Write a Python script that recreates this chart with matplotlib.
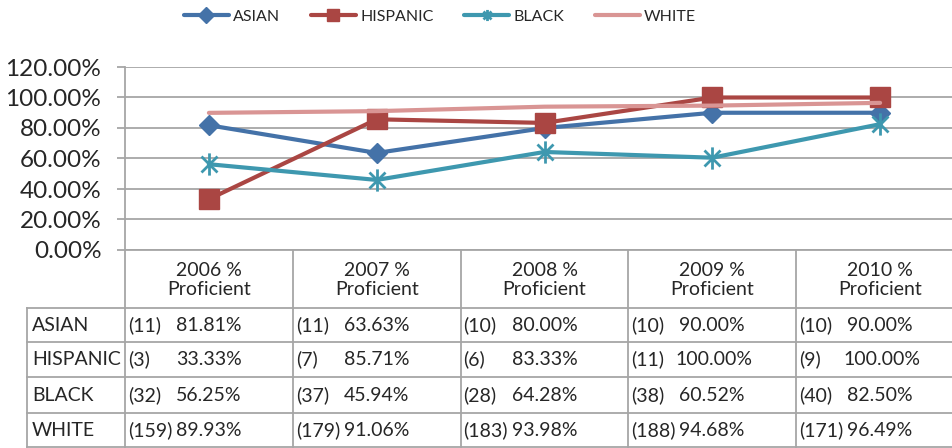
import matplotlib
matplotlib.use("Agg")
import matplotlib.pyplot as plt
from matplotlib.lines import Line2D
from matplotlib.path import Path

plt.rcParams['font.family'] = ['Lato', 'DejaVu Sans']

# ---------------- data ----------------
categories = ["2006 %\nProficient", "2007 %\nProficient", "2008 %\nProficient",
              "2009 %\nProficient", "2010 %\nProficient"]
groups = ["ASIAN", "HISPANIC", "BLACK", "WHITE"]
asian = [81.81, 63.63, 80.00, 90.00, 90.00]
hispanic = [33.33, 85.71, 83.33, 100.00, 100.00]
black = [56.25, 45.94, 64.28, 60.52, 82.50]
white = [89.93, 91.06, 93.98, 94.68, 96.49]
asian_n = [11, 11, 10, 10, 10]
hispanic_n = [3, 7, 6, 11, 9]
black_n = [32, 37, 28, 38, 40]
white_n = [159, 179, 183, 188, 171]
yticks = [0, 20, 40, 60, 80, 100, 120]

values = [asian, hispanic, black, white]
counts = [asian_n, hispanic_n, black_n, white_n]

# ---------------- style ----------------
d = 0.72
star = Path([(0, -1), (0, 1), (-d, -d), (d, d), (-d, d), (d, -d)],
            [Path.MOVETO, Path.LINETO, Path.MOVETO, Path.LINETO, Path.MOVETO, Path.LINETO])
colors = ["#4472A8", "#AA4643", "#3E98AF", "#D99594"]
markers = ["D", "s", star, None]
msizes = [10, 14, 16, 0]
mews = [1, 1, 2, 1]
grid_col = "#A6A6A6"
txt_col = "#262626"
FS_TICK = 17.5
FS_TAB = 14
FS_LEG = 11.5

W, H = 953, 448
fig = plt.figure(figsize=(W / 100, H / 100), dpi=100)
top_px, bot_px, left_px, width_px = 67, 250, 125, 839
ax = fig.add_axes([left_px / W, 1 - bot_px / H, width_px / W, (bot_px - top_px) / H])

def yA(px):
    return (bot_px - px) / (bot_px - top_px)

col_w = width_px / len(categories)  # pixels per category
def dx(px):
    return px / col_w

x = list(range(len(categories)))
for vals, c, m, ms, mw in zip(values, colors, markers, msizes, mews):
    ax.plot(x, vals, color=c, lw=3, marker=m, markersize=ms,
            markeredgecolor=c, markerfacecolor=c, markeredgewidth=mw,
            solid_capstyle='round', solid_joinstyle='round', zorder=3, clip_on=False)

ax.set_xlim(-0.5, len(categories) - 0.5)
ax.set_ylim(0, 120)
ax.set_yticks(yticks)
ax.set_yticklabels([f"{v:.2f}%" for v in yticks], fontsize=FS_TICK, color=txt_col)
ax.set_xticks([])
ax.yaxis.grid(True, color=grid_col, lw=1.3)
ax.set_axisbelow(True)
for s in ["top", "right"]:
    ax.spines[s].set_visible(False)
ax.spines["left"].set_color(grid_col)
ax.spines["left"].set_linewidth(1.3)
ax.spines["bottom"].set_color(grid_col)
ax.spines["bottom"].set_linewidth(1.3)
ax.tick_params(axis='y', length=6, width=1.3, color=grid_col, pad=11)

trans = ax.get_xaxis_transform()

# ---------------- data table ----------------
header_bot = 308
row_lines = [308, 342, 377, 413, 447]
label_left = -0.5 - dx(125 - 27)

ax.plot([-0.5, -0.5], [yA(250), yA(447)], transform=trans, color=grid_col, lw=1.3, clip_on=False)
for i in range(1, len(categories) + 1):
    ax.plot([i - 0.5, i - 0.5], [yA(250), yA(447)], transform=trans, color=grid_col, lw=1.3, clip_on=False)
ax.plot([label_left, label_left], [yA(header_bot), yA(447)], transform=trans, color=grid_col, lw=1.3, clip_on=False)
for yp in row_lines:
    ax.plot([label_left, len(categories) - 0.5], [yA(yp), yA(yp)], transform=trans,
            color=grid_col, lw=1.3, clip_on=False)

for i, cat in enumerate(categories):
    ax.text(i, yA(280), cat, transform=trans, ha='center', va='center',
            fontsize=FS_TAB, color=txt_col, linespacing=1.15, clip_on=False)

for r, (g, vals, ns) in enumerate(zip(groups, values, counts)):
    yc = yA((row_lines[r] + row_lines[r + 1]) / 2)
    ax.text(label_left + dx(5), yc, g, transform=trans, ha='left', va='center',
            fontsize=FS_TAB, color=txt_col, clip_on=False)
    for i, (v, n) in enumerate(zip(vals, ns)):
        ax.text(i - 0.5 + dx(3), yc, f"({n})", transform=trans, ha='left', va='center',
                fontsize=FS_TAB, color=txt_col, clip_on=False)
        off = 51 if v < 100 else 47
        ax.text(i - 0.5 + dx(off), yc, f"{v:.2f}%", transform=trans, ha='left', va='center',
                fontsize=FS_TAB, color=txt_col, clip_on=False)

# ---------------- legend ----------------
handles = []
for c, m, mw in zip(colors, markers, mews):
    handles.append(Line2D([0], [0], color=c, lw=3, marker=m, markersize=8,
                          markerfacecolor=c, markeredgecolor=c, markeredgewidth=mw,
                          solid_capstyle='round'))
fig.legend(handles, groups, loc='center', bbox_to_anchor=(440 / W, 1 - 17 / H), ncol=4,
           frameon=False, fontsize=FS_LEG, handlelength=2.85, handletextpad=0.25,
           columnspacing=1.9, labelcolor=txt_col)

fig.savefig("out.png", dpi=100)
